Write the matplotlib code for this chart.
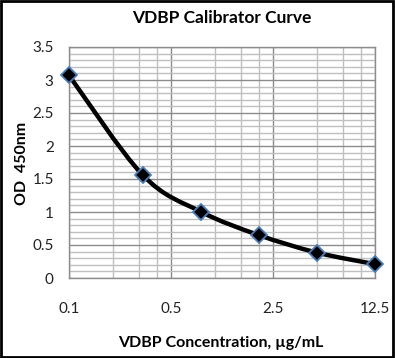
import matplotlib
matplotlib.use("Agg")
import matplotlib.pyplot as plt
import numpy as np
from matplotlib.path import Path
from matplotlib.patches import PathPatch, Rectangle
from matplotlib.ticker import FixedLocator, NullFormatter

# Data
concentration = [0.1, 0.32, 0.8, 2.0, 5.0, 12.5]
od_450 = [3.07, 1.56, 1.005, 0.65, 0.385, 0.21]
x_ticks = [0.1, 0.5, 2.5, 12.5]
x_tick_labels = ["0.1", "0.5", "2.5", "12.5"]
x_minor = [0.2, 0.3, 0.4, 1.0, 1.5, 2.0, 5.0, 7.5, 10.0]
y_ticks = [0, 0.5, 1, 1.5, 2, 2.5, 3, 3.5]
y_tick_labels = ["0", "0.5", "1", "1.5", "2", "2.5", "3", "3.5"]

plt.rcParams['font.family'] = ['Lato', 'DejaVu Sans']

fig = plt.figure(figsize=(3.95, 3.58), dpi=100)
ax = fig.add_axes([69/395, 80/358, 306/395, 231/358])
ax.set_xscale('log', base=5)
ax.set_xlim(0.1, 12.5)
ax.set_ylim(0, 3.5)

ax.xaxis.set_major_locator(FixedLocator(x_ticks))
ax.set_xticklabels(x_tick_labels)
ax.xaxis.set_minor_locator(FixedLocator(x_minor))
ax.xaxis.set_minor_formatter(NullFormatter())
ax.set_yticks(y_ticks)
ax.set_yticklabels(y_tick_labels)
ax.yaxis.set_minor_locator(FixedLocator(np.arange(0, 3.51, 0.1)))

ax.grid(True, which='major', color='#8c8c8c', lw=1.0)
ax.grid(True, which='minor', color='#bfbfbf', lw=1.0)
ax.set_axisbelow(True)
ax.tick_params(which='both', length=0)
ax.tick_params(axis='x', pad=17, labelsize=11, colors='#222222')
ax.tick_params(axis='y', pad=11, labelsize=11, colors='#222222')
for s in ax.spines.values():
    s.set_color('#8c8c8c')
    s.set_linewidth(1.0)

# Smoothed line (Bezier through points in log5-x space)
u = np.log(np.array(concentration)) / np.log(5)
v = np.array(od_450)
n = len(u)
verts = [(concentration[0], od_450[0])]
codes = [Path.MOVETO]
for i in range(n - 1):
    p0 = np.array([u[max(i - 1, 0)], v[max(i - 1, 0)]])
    p1 = np.array([u[i], v[i]])
    p2 = np.array([u[i + 1], v[i + 1]])
    p3 = np.array([u[min(i + 2, n - 1)], v[min(i + 2, n - 1)]])
    c1 = p1 + (p2 - p0) / 6
    c2 = p2 - (p3 - p1) / 6
    for c in (c1, c2, p2):
        verts.append((5 ** c[0], c[1]))
        codes.append(Path.CURVE4)
ax.add_patch(PathPatch(Path(verts, codes), facecolor='none', edgecolor='black',
                       lw=3.2, capstyle='round', joinstyle='round', zorder=3))
ax.plot(concentration, od_450, linestyle='none', marker='D', markersize=8,
        markerfacecolor='black', markeredgecolor='#4a7ebb', markeredgewidth=1.3,
        zorder=4, clip_on=False)

fig.text(222/395, 1 - 18/358, "VDBP Calibrator Curve", ha='center', va='center',
         fontsize=12.5, fontweight='bold')
fig.text(221/395, 1 - 343/358, "VDBP Concentration, µg/mL", ha='center', va='center',
         fontsize=11.5, fontweight='bold')
fig.text(22/395, 1 - 163/358, "OD  450nm", ha='center', va='center', rotation=90,
         fontsize=11.5, fontweight='bold')

fig.add_artist(Rectangle((0.002, 0.002), 0.993, 0.994, transform=fig.transFigure,
                         fill=False, edgecolor='black', lw=2))
fig.savefig("out.png", dpi=100)
